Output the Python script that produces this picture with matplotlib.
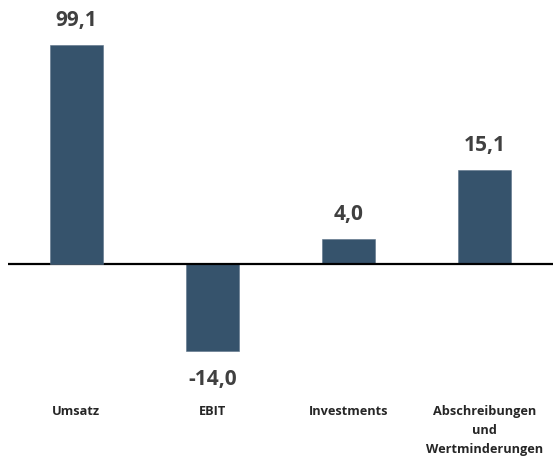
import matplotlib
matplotlib.use("Agg")
import matplotlib.pyplot as plt

plt.rcParams['font.family'] = ['Open Sans', 'DejaVu Sans']

categories = ["Umsatz", "EBIT", "Investments", "Abschreibungen\nund\nWertminderungen"]
values = [99.1, -14.0, 4.0, 15.1]
# Umsatz is drawn on its own (secondary) scale in the reference
secondary = [True, False, False, False]

bar_color = "#36536C"
text_color = "#404040"

W, H = 558, 460
fig = plt.figure(figsize=(W / 100, H / 100), dpi=100)
T, B, L, R = 10, 360, 8, 553
ax = fig.add_axes([L / W, 1 - B / H, (R - L) / W, (B - T) / H])
ax2 = ax.twinx()

zero = 265
s1, s2 = 6.2, 2.21  # px per unit
ax.set_ylim(-(B - zero) / s1, (zero - T) / s1)
ax2.set_ylim(-(B - zero) / s2, (zero - T) / s2)
ax.set_xlim(-0.5, len(categories) - 0.5)

for i, (v, sec) in enumerate(zip(values, secondary)):
    a = ax2 if sec else ax
    a.bar(i, v, width=0.39, color=bar_color, edgecolor="#5a7287", linewidth=0.4, zorder=2)
    lbl = f"{v:.1f}".replace(".", ",")
    off = 18.5 if v >= 0 else -20
    a.annotate(lbl, (i, v), xytext=(0, off), textcoords="offset points",
               ha="center", va="center", fontsize=15, fontweight="bold", color=text_color)

ax.axhline(0, color="black", linewidth=1.6, zorder=3)

for a in (ax, ax2):
    for sp in a.spines.values():
        sp.set_visible(False)
    a.set_yticks([])
ax.set_xticks(range(len(categories)))
ax.set_xticklabels(categories, fontsize=9.2, fontweight="bold", color="#262626")
ax.tick_params(axis="x", length=0, pad=32.5)
for t in ax.get_xticklabels():
    t.set_linespacing(1.6)

fig.savefig("out.png", dpi=100)
